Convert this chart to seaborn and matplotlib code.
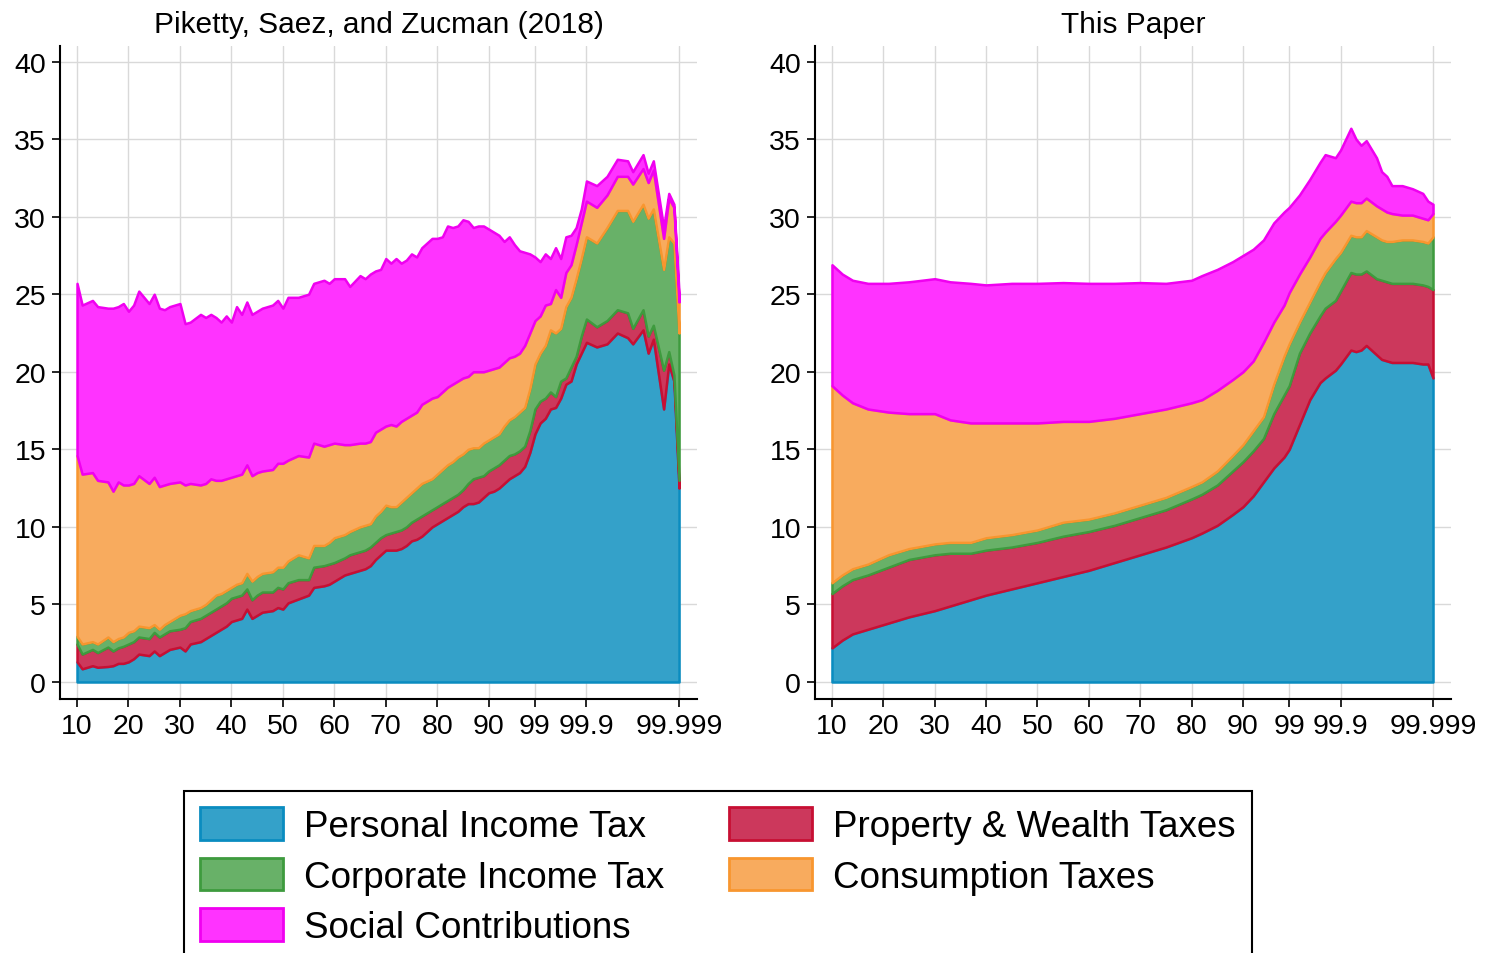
import numpy as np
import matplotlib
matplotlib.use("Agg")
import matplotlib.pyplot as plt
from matplotlib.patches import Patch
import seaborn as sns

# =========================
# DATA (percent of income, by percentile rank)
# =========================

tick_pos = [10, 20, 30, 40, 50, 60, 70, 80, 90, 99, 109, 127]
tick_labels = ["10", "20", "30", "40", "50", "60", "70", "80", "90", "99", "99.9", "99.999"]

series_names = ["Personal Income Tax", "Property & Wealth Taxes", "Corporate Income Tax",
                "Consumption Taxes", "Social Contributions"]

# Piketty, Saez, and Zucman (2018)
psz_x = [10, 11, 13, 14, 16, 17, 18, 19, 20, 21, 22, 24, 25, 26, 27, 28, 30, 31, 32, 34,
         35, 36, 37, 38, 39, 40, 41, 42, 43, 44, 45, 46, 48, 49, 50, 51, 53, 55, 56, 58,
         59, 60, 62, 63, 65, 66, 67, 68, 69, 70, 71, 72, 73, 74, 75, 76, 77, 79, 80, 81,
         82, 83, 84, 85, 86, 87, 88, 89, 90, 91, 92, 93, 94, 95, 96, 97, 98, 99, 100, 101,
         102, 103, 104, 105, 106, 107, 108, 109, 111, 113, 115, 117, 118, 120, 121, 122, 124, 125, 126, 127]
psz_pit = [1.3, 0.85, 1.05, 0.95, 1.0, 1.05, 1.2, 1.2, 1.3, 1.5, 1.8, 1.7, 2.0, 1.7, 1.9, 2.1, 2.25, 2.0, 2.45, 2.6,
           2.8, 3.0, 3.2, 3.4, 3.6, 3.9, 4.0, 4.1, 4.7, 4.1, 4.3, 4.5, 4.6, 4.8, 4.7, 5.1, 5.35, 5.6, 6.1, 6.2,
           6.3, 6.5, 6.9, 7.0, 7.2, 7.3, 7.5, 7.9, 8.2, 8.5, 8.5, 8.5, 8.6, 8.8, 9.1, 9.2, 9.4, 10.0, 10.2, 10.4,
           10.6, 10.8, 11.0, 11.3, 11.5, 11.5, 11.6, 11.9, 12.2, 12.3, 12.5, 12.8, 13.1, 13.3, 13.5, 13.9, 14.8, 16.0, 16.7, 17.0,
           17.6, 17.7, 18.3, 19.2, 19.4, 20.5, 21.2, 21.9, 21.6, 21.8, 22.5, 22.2, 21.8, 22.7, 21.2, 22.1, 17.6, 20.5, 19.4, 12.5]
psz_prop = [1.15, 0.95, 1.05, 0.95, 1.25, 0.95, 1.0, 1.1, 1.15, 1.1, 1.1, 1.1, 1.2, 1.2, 1.2, 1.2, 1.15, 1.5, 1.45, 1.5,
            1.5, 1.5, 1.5, 1.5, 1.5, 1.5, 1.5, 1.5, 1.3, 1.2, 1.3, 1.3, 1.2, 1.3, 1.3, 1.3, 1.25, 1.0, 1.3, 1.3,
            1.3, 1.2, 1.1, 1.2, 1.2, 1.2, 1.2, 1.1, 1.1, 1.0, 1.1, 1.2, 1.2, 1.2, 1.2, 1.3, 1.3, 1.1, 1.1, 1.1,
            1.1, 1.1, 1.1, 1.1, 1.3, 1.6, 1.6, 1.4, 1.4, 1.5, 1.5, 1.5, 1.5, 1.4, 1.4, 1.3, 1.4, 1.6, 1.4, 1.3,
            1.1, 0.7, 1.1, 0.4, 0.9, 0.5, 1.1, 1.5, 1.3, 1.5, 1.5, 1.6, 1.0, 1.3, 1.1, 0.9, 2.5, 0.8, 0.4, 0.5]
psz_cit = [0.5, 0.65, 0.5, 0.55, 0.65, 0.6, 0.6, 0.6, 0.75, 0.7, 0.7, 0.7, 0.5, 0.5, 0.6, 0.6, 0.9, 0.9, 0.7, 0.7,
           0.7, 0.8, 0.9, 0.8, 0.8, 0.7, 0.8, 0.8, 1.0, 1.2, 1.2, 1.2, 1.3, 1.3, 1.4, 1.4, 1.6, 1.4, 1.4, 1.3,
           1.4, 1.6, 1.5, 1.5, 1.6, 1.6, 1.5, 1.7, 1.7, 1.9, 1.7, 1.6, 1.8, 1.9, 1.9, 2.0, 2.1, 2.0, 2.1, 2.2,
           2.3, 2.3, 2.4, 2.3, 2.2, 2.0, 1.9, 2.1, 2.0, 2.0, 2.0, 2.2, 2.3, 2.4, 2.5, 2.5, 2.7, 2.9, 3.1, 3.4,
           4.0, 4.1, 3.4, 4.6, 4.5, 5.0, 5.0, 5.3, 5.4, 6.0, 6.4, 6.6, 6.9, 6.8, 7.6, 7.5, 6.5, 7.4, 8.5, 9.5]
psz_cons = [11.65, 10.95, 10.9, 10.55, 10.0, 9.7, 10.1, 9.8, 9.5, 9.5, 9.7, 9.3, 9.5, 9.2, 9.0, 8.9, 8.6, 8.3, 8.2, 7.9,
            7.8, 7.8, 7.4, 7.3, 7.2, 7.1, 7.0, 7.0, 7.0, 6.8, 6.7, 6.6, 6.6, 6.7, 6.7, 6.5, 6.4, 6.5, 6.6, 6.4,
            6.3, 6.1, 5.8, 5.6, 5.4, 5.3, 5.3, 5.4, 5.3, 5.1, 5.3, 5.2, 5.2, 5.1, 5.0, 4.9, 5.1, 5.2, 5.0, 5.0,
            5.0, 5.0, 4.9, 4.9, 4.7, 4.9, 4.9, 4.6, 4.5, 4.4, 4.3, 4.1, 4.0, 3.9, 3.8, 4.0, 3.6, 2.8, 2.4, 2.6,
            1.7, 2.8, 2.0, 2.2, 2.1, 2.2, 2.3, 2.3, 2.3, 2.1, 2.2, 2.2, 2.4, 2.3, 2.3, 2.5, 2.0, 2.5, 2.3, 2.0]
psz_soc = [11.1, 10.9, 11.1, 11.2, 11.2, 11.8, 11.3, 11.7, 11.2, 11.5, 11.9, 11.6, 11.8, 11.5, 11.3, 11.4, 11.5, 10.4, 10.4, 11.0,
           10.7, 10.6, 10.5, 10.2, 10.5, 10.0, 10.9, 10.3, 10.5, 10.4, 10.4, 10.5, 10.6, 10.5, 10.0, 10.5, 10.2, 10.5, 10.3, 10.7,
           10.4, 10.6, 10.7, 10.2, 10.8, 10.6, 10.8, 10.4, 10.3, 10.8, 10.4, 10.8, 10.2, 10.2, 10.4, 10.0, 10.1, 10.3, 10.2, 10.0,
           10.4, 10.1, 10.0, 10.2, 10.0, 9.3, 9.4, 9.4, 9.1, 8.8, 8.5, 7.8, 7.8, 7.2, 6.6, 6.0, 5.1, 4.1, 3.5, 3.3,
           2.9, 2.7, 2.5, 2.3, 1.9, 1.1, 0.9, 1.3, 1.4, 1.2, 1.1, 1.0, 0.8, 0.9, 0.6, 0.6, 0.7, 0.3, 0.2, 0.5]

# This Paper
tp_x = [10, 12, 14, 17, 21, 25, 30, 33, 37, 40, 45, 50, 55, 60, 65, 70, 75, 80, 82, 85,
        88, 90, 92, 94, 96, 98, 99, 101, 103, 105, 106, 108, 109, 111, 112, 113, 114, 116, 117, 118,
        119, 121, 123, 125, 126, 127]
tp_pit = [2.2, 2.7, 3.1, 3.4, 3.8, 4.2, 4.6, 4.9, 5.3, 5.6, 6.0, 6.4, 6.8, 7.2, 7.7, 8.2, 8.7, 9.3, 9.6, 10.1,
          10.8, 11.3, 12.0, 12.9, 13.8, 14.5, 15.0, 16.6, 18.2, 19.3, 19.6, 20.1, 20.5, 21.4, 21.3, 21.4, 21.7, 21.1, 20.8, 20.7,
          20.6, 20.6, 20.6, 20.5, 20.5, 19.6]
tp_prop = [3.5, 3.5, 3.5, 3.5, 3.6, 3.7, 3.6, 3.4, 3.0, 2.9, 2.7, 2.6, 2.6, 2.5, 2.4, 2.4, 2.4, 2.5, 2.5, 2.6,
           2.8, 2.9, 2.9, 2.8, 3.5, 4.0, 4.1, 4.6, 4.3, 4.3, 4.5, 4.5, 4.7, 5.0, 5.0, 4.9, 4.8, 4.9, 5.1, 5.1,
           5.1, 5.1, 5.1, 5.1, 5.0, 5.7]
tp_cit = [0.7, 0.7, 0.7, 0.7, 0.8, 0.7, 0.7, 0.7, 0.7, 0.8, 0.8, 0.8, 0.9, 0.8, 0.8, 0.8, 0.8, 0.8, 0.8, 0.9,
          1.0, 1.1, 1.3, 1.4, 1.9, 2.5, 2.7, 2.0, 2.0, 2.2, 2.3, 2.7, 2.5, 2.4, 2.4, 2.4, 2.6, 2.7, 2.6, 2.6,
          2.7, 2.8, 2.8, 2.8, 2.8, 3.4]
tp_cons = [12.7, 11.6, 10.7, 10.0, 9.2, 8.7, 8.4, 7.9, 7.7, 7.4, 7.2, 6.9, 6.5, 6.3, 6.1, 5.9, 5.7, 5.4, 5.3, 5.2,
           4.9, 4.7, 4.5, 4.8, 4.0, 3.3, 3.3, 3.1, 2.9, 2.8, 2.6, 2.4, 2.4, 2.2, 2.2, 2.2, 2.1, 2.0, 2.0, 1.9,
           1.8, 1.6, 1.6, 1.5, 1.5, 1.5]
tp_soc = [7.8, 7.8, 7.9, 8.1, 8.3, 8.5, 8.7, 8.9, 9.0, 8.9, 9.0, 9.0, 8.95, 8.9, 8.7, 8.45, 8.1, 7.9, 8.0, 7.8,
          7.6, 7.5, 7.2, 6.6, 6.4, 6.0, 5.5, 5.1, 5.0, 4.9, 5.0, 4.1, 4.2, 4.7, 4.1, 3.7, 3.7, 3.1, 2.4, 2.3,
          1.8, 1.9, 1.7, 1.6, 1.2, 0.6]

face_colors = ["#34a1c9", "#cc385c", "#68b168", "#f8ab5e", "#ff33ff"]
edge_colors = ["#0a8cc0", "#c70f33", "#3e9b3e", "#f8962f", "#f000f0"]

# =========================
# STYLE
# =========================

sns.set_theme(style="white")
plt.rcParams["font.family"] = ["Liberation Sans", "DejaVu Sans"]
plt.rcParams["text.color"] = "black"

fig = plt.figure(figsize=(14.85, 9.54), dpi=100)
ax_left = fig.add_axes([0.0404, 0.2662, 0.4290, 0.6845])
ax_right = fig.add_axes([0.5488, 0.2662, 0.4283, 0.6845])

panels = [
    (ax_left, "Piketty, Saez, and Zucman (2018)", psz_x, [psz_pit, psz_prop, psz_cit, psz_cons, psz_soc]),
    (ax_right, "This Paper", tp_x, [tp_pit, tp_prop, tp_cit, tp_cons, tp_soc]),
]

for ax, title, xs, layers in panels:
    polys = ax.stackplot(xs, *layers, colors=face_colors, zorder=2)
    for poly, ec in zip(polys, edge_colors):
        poly.set_edgecolor(ec)
        poly.set_linewidth(1.8)

    ax.set_xlim(6.69, 130.5)
    ax.set_ylim(-1.1, 41.0)
    ax.set_xticks(tick_pos)
    ax.set_xticklabels(tick_labels)
    ax.set_yticks(range(0, 41, 5))

    ax.grid(True, color="#d9d9d9", linewidth=1.0)
    ax.set_axisbelow(True)
    for side in ["top", "right"]:
        ax.spines[side].set_visible(False)
    for side in ["left", "bottom"]:
        ax.spines[side].set_color("black")
        ax.spines[side].set_linewidth(1.5)

    ax.tick_params(axis="both", direction="out", length=6, width=1.2, colors="black",
                   labelsize=20.5, pad=4, bottom=True, left=True)
    ax.set_title(title, fontsize=21.5, pad=10, color="black")

# =========================
# LEGEND
# =========================

order = [0, 2, 4, 1, 3]
handles = [Patch(facecolor=face_colors[i], edgecolor=edge_colors[i], linewidth=2) for i in order]
labels = [series_names[i] for i in order]

leg = fig.legend(handles, labels, ncol=2, loc="upper center", bbox_to_anchor=(0.4835, 0.1698),
                 frameon=True, fancybox=False, edgecolor="black", framealpha=1, fontsize=26.5,
                 labelcolor="black", handlelength=2.25, handleheight=1.0, handletextpad=0.58,
                 columnspacing=1.75, labelspacing=0.37, borderpad=0.43, borderaxespad=0)
leg.get_frame().set_linewidth(1.5)

fig.savefig("out.png", dpi=100)
